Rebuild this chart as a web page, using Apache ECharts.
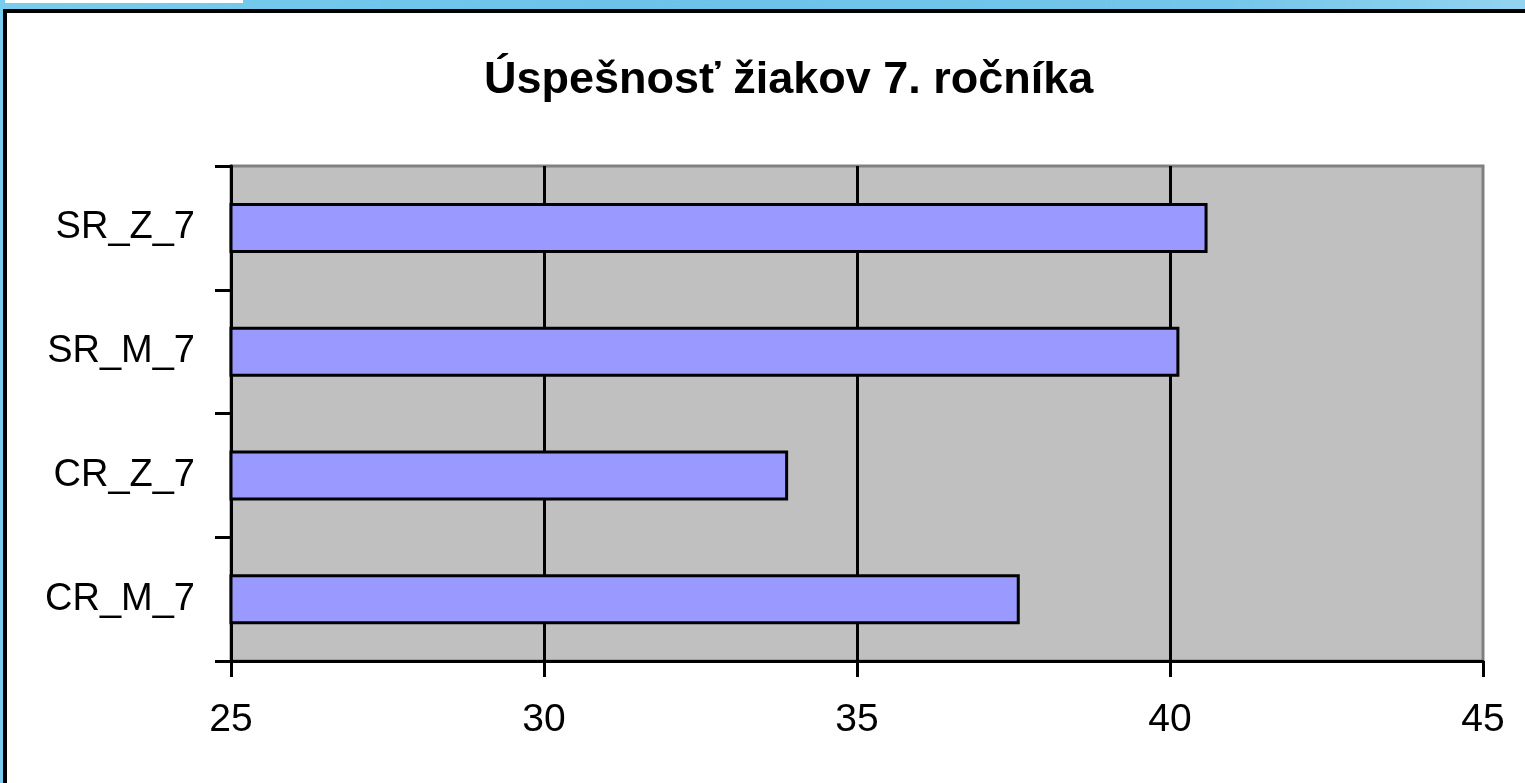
<!DOCTYPE html>
<html>
<head>
<meta charset="utf-8">
<script src="https://cdn.jsdelivr.net/npm/echarts@6/dist/echarts.min.js"></script>
<style>
  html, body { margin: 0; padding: 0; width: 1525px; height: 783px; overflow: hidden; }
  body { background: linear-gradient(90deg, #78cdee 0%, #6cc2e8 40%, #74c6ea 80%, #92d3ef 100%); position: relative; }
  #tab { position: absolute; left: 5px; top: 0; width: 238px; height: 3px; background: #fff; }
  #frame { position: absolute; left: 3px; top: 9px; width: 1540px; height: 800px; background: #fff; border: 4px solid #000; box-sizing: border-box; }
  #chart { position: absolute; left: 0; top: 0; width: 1525px; height: 783px; }
</style>
</head>
<body>
<div id="tab"></div>
<div id="frame"></div>
<div id="chart"></div>
<script>
var titleText = 'Úspešnosť žiakov 7. ročníka';
var categories = ['CR_M_7', 'CR_Z_7', 'SR_M_7', 'SR_Z_7'];
var values = [37.6, 33.9, 40.15, 40.6];
var xMin = 25, xMax = 45, xStep = 5;

var font = '"Liberation Sans", Arial, sans-serif';
var chart = echarts.init(document.getElementById('chart'), null, { renderer: 'canvas' });
var option = {
    backgroundColor: 'transparent',
    animation: false,
    textStyle: { fontFamily: font },
    title: {
        text: titleText,
        left: 479,
        top: 53,
        textStyle: { fontSize: 45, fontWeight: 'bold', color: '#000', fontFamily: font }
    },
    grid: {
        left: 231,
        right: 42,
        top: 166,
        bottom: 122,
        show: true,
        backgroundColor: '#c0c0c0',
        borderColor: '#808080',
        borderWidth: 3
    },
    xAxis: {
        type: 'value',
        min: xMin,
        max: xMax,
        interval: xStep,
        axisLine: { show: true, lineStyle: { color: '#000', width: 3 } },
        axisTick: { show: true, length: 16, lineStyle: { color: '#000', width: 3 } },
        axisLabel: { color: '#000', fontSize: 39, margin: 40 },
        splitLine: { show: true, showMinLine: false, showMaxLine: false, lineStyle: { color: '#000', width: 3 } }
    },
    yAxis: {
        type: 'category',
        data: categories,
        axisLine: { show: true, lineStyle: { color: '#000', width: 3 } },
        axisTick: { show: true, length: 16, lineStyle: { color: '#000', width: 3 } },
        axisLabel: { color: '#000', fontSize: 38, margin: 36, padding: [0, 0, 4, 0] },
        splitLine: { show: false }
    },
    series: [{
        type: 'bar',
        data: values,
        barWidth: 50,
        itemStyle: { color: '#9999ff', borderColor: '#000', borderWidth: 3 }
    }]
};
chart.setOption(option);
</script>
</body>
</html>
